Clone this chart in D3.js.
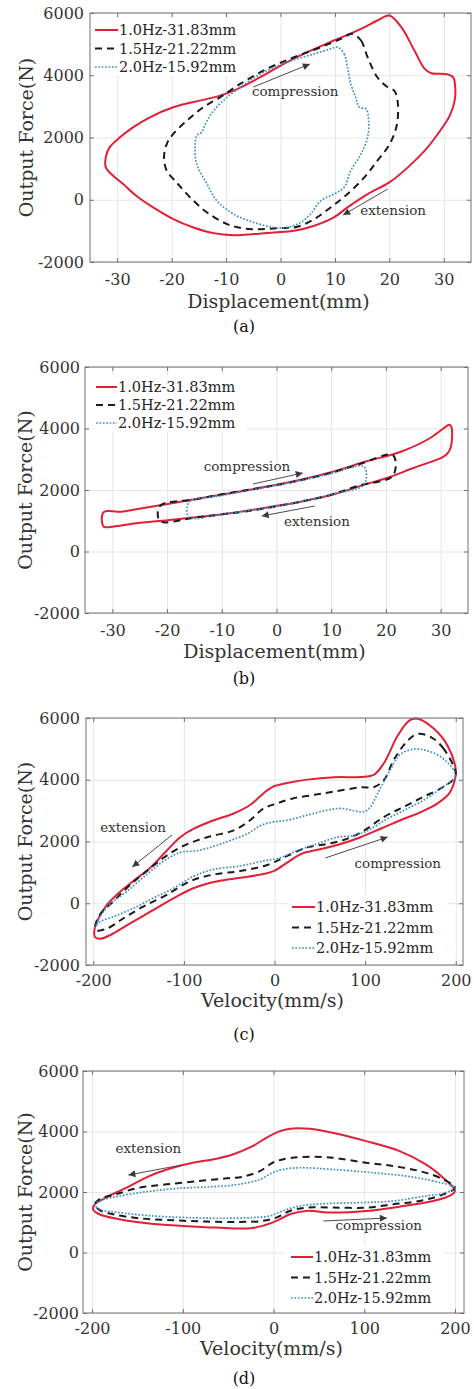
<!DOCTYPE html>
<html>
<head>
<meta charset="utf-8">
<script src="https://cdn.jsdelivr.net/npm/d3@7"></script>
<style>
body { margin: 0; background: #fff; }
text { font-family: "DejaVu Serif", serif; }
</style>
</head>
<body>
<svg id="fig" width="474" height="1389"></svg>
<script>

/* ----- data ----- */

const legendLabels = ["1.0Hz-31.83mm", "1.5Hz-21.22mm", "2.0Hz-15.92mm"];
const dispTicks = [-30, -20, -10, 0, 10, 20, 30];
const velTicks = [-200, -100, 0, 100, 200];
const forceTicks = [-2000, 0, 2000, 4000, 6000];

// (a) force vs displacement, loops as [mm, N]
const redA = [[20.0,5920],[22.2,5545],[24.6,4793],[26.5,4204],[27.7,4064],[30.2,4043],[31.7,3936],[32.1,3614],[32.0,3185],[31.1,2702],[28.9,2113],[26.5,1576],[23.4,1040],[20.0,558],[16.0,182],[12.3,-247],[9.8,-568],[6.2,-836],[2.5,-997],[-1.2,-1051],[-4.9,-1104],[-8.6,-1137],[-12.3,-1072],[-16.0,-890],[-19.7,-622],[-23.4,-247],[-26.5,129],[-28.9,504],[-31.1,826],[-32.1,1040],[-32.1,1362],[-31.4,1684],[-29.5,2005],[-27.1,2327],[-24.0,2649],[-19.7,2971],[-14.8,3185],[-11.1,3346],[-8.6,3507],[-3.7,3936],[0.6,4365],[4.9,4740],[9.8,5116],[14.8,5491],[17.8,5759]];
const blackA = [[13.2,5330],[14.8,5116],[16.0,4579],[17.8,3936],[19.7,3614],[20.9,3507],[21.5,3185],[21.5,2541],[20.9,2113],[19.7,1684],[17.8,1255],[15.4,719],[12.3,182],[9.2,-247],[6.2,-622],[3.1,-869],[0,-912],[-3.7,-944],[-6.8,-922],[-9.8,-783],[-13.5,-408],[-16.6,75],[-19.1,558],[-20.9,933],[-21.4,1362],[-20.9,1791],[-19.7,2113],[-17.2,2541],[-14.2,2971],[-11.1,3292],[-7.4,3721],[-2.5,4204],[2.5,4579],[7.4,4901],[11.1,5169]];
const blueA = [[10.5,4901],[11.7,4686],[12.3,4258],[12.9,3721],[13.8,3292],[14.5,2971],[15.7,2917],[16.2,2541],[16.0,2005],[14.8,1469],[12.9,933],[11.7,397],[9.8,182],[7.4,-32],[5.5,-461],[3.7,-729],[1.2,-890],[-1.2,-890],[-4.9,-729],[-8.6,-461],[-11.7,-32],[-13.5,504],[-15.4,1147],[-15.7,1684],[-15.4,2059],[-14.5,2166],[-13.8,2434],[-12.3,2863],[-9.8,3292],[-7.4,3614],[-3.7,4043],[1.2,4418],[6.2,4686],[9.2,4847]];

// (b)
const redB = [[-31.5,1292],[-28.4,1292],[-24.8,1401],[-19.9,1543],[-13.9,1730],[-7.8,1916],[-1.7,2113],[4.4,2332],[10.5,2605],[16.5,2934],[22.6,3236],[28.1,3691],[30.5,4000],[31.6,4120],[32.0,4028],[31.9,3426],[31.3,3200],[30.4,3073],[25.0,2715],[20.2,2390],[16.5,2200],[10.5,1861],[4.4,1620],[-1.7,1434],[-7.8,1259],[-13.9,1128],[-19.9,1018],[-26.0,908],[-30.3,799],[-31.5,799],[-31.9,963]];
const blackB = [[-21.3,1480],[-15,1690],[-10,1860],[-5,2010],[0,2160],[5,2340],[10,2560],[15,2830],[21.3,3130],[21.3,2470],[15,2140],[10,1850],[5,1640],[0,1470],[-5,1320],[-10,1210],[-15,1100],[-21.3,990]];
const blueB = [[-16,1600],[-10,1820],[-5,1990],[0,2150],[5,2330],[10,2530],[16,2760],[16,2180],[10,1860],[5,1640],[0,1470],[-5,1330],[-10,1210],[-16,1110]];

// (c) force vs velocity, [mm/s, N]
const redC = [[200,4333],[191,5101],[176,5650],[158,5979],[149,5924],[136,5431],[121,4553],[110,4169],[95,4092],[66,4081],[36,4004],[14,3895],[-1,3785],[-12,3565],[-27,3181],[-45,2907],[-67,2688],[-89,2414],[-104,2139],[-119,1700],[-137,1152],[-156,713],[-174,274],[-185,-55],[-196,-603],[-199,-932],[-198,-1097],[-193,-1152],[-182,-1042],[-163,-713],[-137,-274],[-111,165],[-89,494],[-63,713],[-38,823],[-15,933],[-1,1042],[14,1316],[29,1591],[51,1755],[73,1920],[95,2139],[117,2414],[139,2688],[162,2962],[180,3236],[193,3565],[199,4004]];
const blackC = [[200,4224],[187,4992],[173,5376],[158,5486],[147,5266],[132,4663],[121,4004],[110,3763],[95,3752],[66,3620],[44,3511],[21,3401],[3,3236],[-12,3072],[-27,2688],[-45,2359],[-67,2194],[-86,2030],[-104,1810],[-122,1481],[-141,1042],[-159,603],[-178,55],[-193,-384],[-198,-768],[-196,-878],[-185,-823],[-167,-494],[-145,-110],[-119,274],[-93,713],[-67,933],[-38,1042],[-8,1240],[14,1536],[36,1810],[58,1920],[80,2085],[99,2359],[121,2798],[143,3127],[165,3456],[184,3730],[199,4059]];
const blueC = [[200,4114],[187,4663],[169,4937],[154,4992],[139,4827],[128,4333],[114,3565],[106,3127],[99,2962],[88,2995],[73,3072],[58,3017],[36,2852],[14,2688],[-1,2633],[-15,2523],[-30,2249],[-49,2030],[-67,1843],[-86,1700],[-104,1646],[-122,1371],[-141,933],[-163,384],[-178,55],[-189,-274],[-198,-768],[-193,-603],[-178,-439],[-156,-165],[-134,165],[-111,494],[-89,878],[-67,1097],[-38,1207],[-12,1371],[7,1481],[25,1700],[47,1920],[69,2139],[88,2194],[103,2359],[125,2743],[147,3072],[165,3346],[184,3730]];

// (d)
const redD = [[200,2033],[187,2473],[168,2912],[139,3352],[102,3681],[65,3956],[40,4088],[21,4099],[7,4011],[-8,3791],[-23,3516],[-45,3242],[-67,3077],[-89,2967],[-111,2802],[-137,2527],[-162,2143],[-185,1813],[-197,1593],[-199,1429],[-192,1264],[-170,1099],[-137,956],[-100,879],[-63,824],[-26,802],[-12,879],[3,1044],[18,1264],[36,1374],[65,1319],[102,1374],[139,1516],[176,1703],[194,1868]];
const blackD = [[200,2143],[183,2473],[161,2692],[132,2857],[102,2967],[65,3132],[29,3154],[10,3077],[-1,2967],[-15,2692],[-34,2505],[-52,2451],[-82,2363],[-118,2253],[-148,2143],[-174,1923],[-192,1758],[-197,1593],[-192,1407],[-177,1264],[-148,1132],[-111,1066],[-74,1022],[-38,1011],[-12,1044],[3,1154],[18,1374],[36,1484],[65,1484],[102,1484],[132,1593],[161,1703],[187,1923]];
const blueD = [[200,2143],[176,2363],[146,2527],[110,2637],[65,2747],[29,2802],[10,2747],[-1,2637],[-15,2418],[-38,2253],[-67,2176],[-104,2121],[-140,2011],[-170,1868],[-192,1703],[-197,1593],[-192,1429],[-170,1319],[-133,1209],[-96,1154],[-60,1132],[-23,1154],[-4,1209],[10,1374],[29,1538],[58,1615],[95,1648],[132,1703],[168,1868],[190,1978]];

// annotation arrows [text, textX, textY, fromX, fromY, toX, toY] in data units
const notesA = [["compression", 2.7, 3333, -5.0, 3622, 5.4, 4361], ["extension", 20.7, -490, 19.7, 345, 11.5, -490]];
const notesB = [["compression", -5.4, 2618, -4.3, 2195, 4.8, 2553], ["extension", 7.4, 829, 7.0, 1480, -2.7, 1154]];
const notesC = [["extension", -156, 2308, -113, 2211, -157, 1174], ["compression", 136, 1142, 56, 1466, 125, 2146]];
const notesD = [["extension", -138, 3289, -101, 2893, -160, 2562], ["compression", 116, 744, 55, 1041, 125, 1140]];

/* ----- styles ----- */

const lineStyles = [
    {color: "#e11f37", width: 2, dash: null},
    {color: "#1b1b1b", width: 2, dash: "7,5"},
    {color: "#3e8fc9", width: 1.7, dash: "1.7,1.7"}
];

let svg = d3.select("#fig");
svg.append("rect").attr("width", 474).attr("height", 1389).attr("fill", "#fff");

svg.append("defs").append("marker")
    .attr("id", "head")
    .attr("viewBox", "0 -5 10 10")
    .attr("refX", 10)
    .attr("refY", 0)
    .attr("markerUnits", "userSpaceOnUse")
    .attr("markerWidth", 9)
    .attr("markerHeight", 7)
    .attr("orient", "auto")
    .append("path")
    .attr("d", "M0,-5L10,0L0,5Z")
    .attr("fill", "#3a3a3a");

function drawPanel(p)
{
    let x = d3.scaleLinear().domain(p.xDomain).range([p.left, p.right]);
    let y = d3.scaleLinear().domain([-2000, 6000]).range([p.bottom, p.top]);
    let g = svg.append("g");
    let plain = d => String(d);   // "-2000", no thousands comma

    // grid
    g.append("g")
        .attr("transform", `translate(0,${p.bottom})`)
        .call(d3.axisBottom(x).tickValues(p.xTicks).tickSize(-(p.bottom - p.top)).tickFormat(""))
        .call(s => { s.select(".domain").remove(); s.selectAll("line").attr("stroke", "#e6e6e6"); });
    g.append("g")
        .attr("transform", `translate(${p.left},0)`)
        .call(d3.axisLeft(y).tickValues(forceTicks).tickSize(-(p.right - p.left)).tickFormat(""))
        .call(s => { s.select(".domain").remove(); s.selectAll("line").attr("stroke", "#e6e6e6"); });

    // loops
    let line = d3.line()
        .x(d => x(d[0]))
        .y(d => y(d[1]))
        .curve(d3.curveCatmullRomClosed.alpha(0.5));

    p.series.forEach((s, i) => {
        g.append("path")
            .attr("d", line(s))
            .attr("fill", "none")
            .attr("stroke", lineStyles[i].color)
            .attr("stroke-width", lineStyles[i].width)
            .attr("stroke-dasharray", lineStyles[i].dash)
            .attr("stroke-linejoin", "round");
    });

    // arrows + words
    p.notes.forEach(n => {
        g.append("line")
            .attr("x1", x(n[3])).attr("y1", y(n[4]))
            .attr("x2", x(n[5])).attr("y2", y(n[6]))
            .attr("stroke", "#4a4a4a")
            .attr("stroke-width", 1)
            .attr("marker-end", "url(#head)");
        g.append("text")
            .attr("x", x(n[1])).attr("y", y(n[2]))
            .attr("text-anchor", "middle")
            .attr("font-size", 13.5)
            .attr("fill", "#333")
            .text(n[0]);
    });

    // legend
    let L = p.legend;
    g.append("rect")
        .attr("x", L.bx).attr("y", L.by).attr("width", L.bw).attr("height", L.bh)
        .attr("fill", "#fff");
    legendLabels.forEach((lab, i) => {
        let ry = L.y + i * L.dy;
        g.append("line")
            .attr("x1", L.x).attr("x2", L.x + L.len)
            .attr("y1", ry).attr("y2", ry)
            .attr("stroke", lineStyles[i].color)
            .attr("stroke-width", lineStyles[i].width)
            .attr("stroke-dasharray", lineStyles[i].dash);
        g.append("text")
            .attr("x", L.x + L.len + 1).attr("y", ry + 5)
            .attr("font-size", 14.5)
            .attr("fill", "#222")
            .text(lab);
    });

    // box
    g.append("rect")
        .attr("x", p.left).attr("y", p.top)
        .attr("width", p.right - p.left).attr("height", p.bottom - p.top)
        .attr("fill", "none")
        .attr("stroke", "#707070")
        .attr("stroke-width", 1);

    // axes, ticks pointing inward
    let styleAxis = s => {
        s.select(".domain").remove();
        s.selectAll("line").attr("stroke", "#707070");
        s.selectAll("text").attr("font-size", 16).attr("fill", "#333").attr("font-family", "DejaVu Serif, serif");
    };
    g.append("g")
        .attr("transform", `translate(0,${p.bottom})`)
        .call(d3.axisBottom(x).tickValues(p.xTicks).tickFormat(plain).tickSizeInner(-4).tickSizeOuter(0).tickPadding(p.xPad))
        .call(styleAxis);
    g.append("g")
        .attr("transform", `translate(0,${p.top})`)
        .call(d3.axisTop(x).tickValues(p.xTicks).tickSizeInner(-4).tickSizeOuter(0).tickFormat(""))
        .call(styleAxis);
    g.append("g")
        .attr("transform", `translate(${p.left},0)`)
        .call(d3.axisLeft(y).tickValues(forceTicks).tickFormat(plain).tickSizeInner(-4).tickSizeOuter(0).tickPadding(p.yPad))
        .call(styleAxis);
    g.append("g")
        .attr("transform", `translate(${p.right},0)`)
        .call(d3.axisRight(y).tickValues(forceTicks).tickSizeInner(-4).tickSizeOuter(0).tickFormat(""))
        .call(styleAxis);

    // axis titles and caption
    g.append("text")
        .attr("x", (p.left + p.right) / 2 - 2).attr("y", p.bottom + p.xTitleGap)
        .attr("text-anchor", "middle")
        .attr("font-size", 19)
        .attr("fill", "#333")
        .text(p.xTitle);
    g.append("text")
        .attr("transform", `translate(${p.yTitleX},${(p.top + p.bottom) / 2}) rotate(-90)`)
        .attr("text-anchor", "middle")
        .attr("font-size", 19)
        .attr("fill", "#333")
        .text("Output Force(N)");
    g.append("text")
        .attr("x", 244).attr("y", p.captionY)
        .attr("text-anchor", "middle")
        .attr("font-size", 16)
        .attr("fill", "#111")
        .text(p.caption);
}

drawPanel({
    top: 13, bottom: 262, left: 90, right: 471,
    xDomain: [-35, 35], xTicks: dispTicks, xPad: 12, yPad: 6,
    series: [redA, blackA, blueA], notes: notesA,
    legend: {x: 95, y: 30, dy: 18.5, len: 23, bx: 91, by: 18, bw: 156, bh: 58},
    xTitle: "Displacement(mm)", xTitleGap: 46, yTitleX: 33,
    caption: "(a)", captionY: 332
});

drawPanel({
    top: 367, bottom: 613, left: 85, right: 468,
    xDomain: [-35, 35], xTicks: dispTicks, xPad: 12, yPad: 5,
    series: [redB, blackB, blueB], notes: notesB,
    legend: {x: 96, y: 387, dy: 18, len: 21, bx: 90, by: 375, bw: 156, bh: 57},
    xTitle: "Displacement(mm)", xTitleGap: 45, yTitleX: 32,
    caption: "(b)", captionY: 684
});

drawPanel({
    top: 718, bottom: 965, left: 86, right: 463,
    xDomain: [-208, 208], xTicks: velTicks, xPad: 10, yPad: 6,
    series: [redC, blackC, blueC], notes: notesC,
    legend: {x: 292, y: 907, dy: 20.5, len: 23, bx: 288, by: 895, bw: 160, bh: 63},
    xTitle: "Velocity(mm/s)", xTitleGap: 42, yTitleX: 32,
    caption: "(c)", captionY: 1040
});

drawPanel({
    top: 1071, bottom: 1313, left: 83, right: 464,
    xDomain: [-210, 210], xTicks: velTicks, xPad: 10, yPad: 4,
    series: [redD, blackD, blueD], notes: notesD,
    legend: {x: 291, y: 1257, dy: 20.5, len: 22, bx: 286, by: 1245, bw: 158, bh: 63},
    xTitle: "Velocity(mm/s)", xTitleGap: 42, yTitleX: 32,
    caption: "(d)", captionY: 1384
});

</script>
</body>
</html>
